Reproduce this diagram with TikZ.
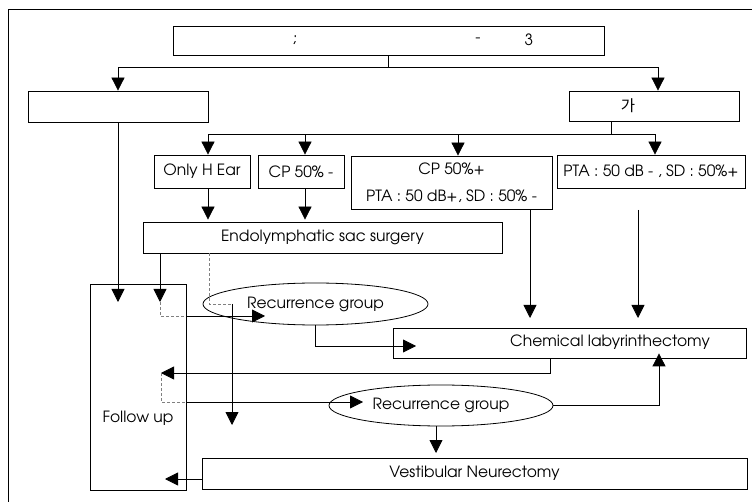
\documentclass[tikz,border=0pt]{standalone}
\usepackage{fontspec}
\setmainfont{texgyreadventor}[Extension=.otf,UprightFont=*-regular,BoldFont=*-bold]
\newfontfamily\krfont{Noto Sans CJK KR}
\usetikzlibrary{arrows.meta,shapes.geometric,positioning}
\tikzset{>={Triangle[length=13pt,width=13pt]}}
\tikzset{box/.style={draw,line width=.8pt,inner sep=0pt},
  grp/.style={draw,ellipse,line width=.8pt,inner sep=0pt,minimum width=225pt,minimum height=42pt},
  dashline/.style={dash pattern=on 3pt off 2pt,line width=.6pt,gray}}

\begin{document}
\begin{tikzpicture}[x=1pt,y=-1pt,line width=.8pt,font=\fontsize{15.5}{18}\selectfont]
        \useasboundingbox (0,0) rectangle (752,502);
        \draw (8,502)--(8,9)--(752,9);
        \node (top) at (388.5,40.5)[box,minimum width=431pt,minimum height=29pt]{};
        \node (semi) at (295,40){;};
        \node (dash) at (478,40){-};
        \node (three) at (529,40){3};
        \node (lbox) at (118,106.5)[box,minimum width=180pt,minimum height=31pt]{};
        \node (rbox) at (654,106)[box,minimum width=170pt,minimum height=30pt]{};
        \node (ga) at (628,106){\krfont 가};
        \draw [->](top.south)--++(0,12)-|(lbox.north);
        \draw [->](top.south)--++(0,12)-|([xshift=4pt]rbox.north);
        \node (onlyh) at (202,171.5)[box,minimum width=96pt,minimum height=33pt]{Only H Ear};
        \node (cpminus) at (301,171.5)[box,minimum width=86pt,minimum height=33pt]{CP 50\% -};
        \node (cpplus) at (451.5,182.5)[box,minimum width=201pt,minimum height=53pt,align=center]{CP 50\%+\\[9pt]PTA : 50 dB+, SD : 50\% -};
        \node (pta) at (651,171.5)[box,minimum width=188pt,minimum height=33pt]{PTA : 50 dB - , SD : 50\%+};
        \coordinate (fork) at (611,134);
        \draw (rbox.south -| fork)--(fork);
        \draw [->](fork)-|([xshift=6pt]onlyh.north);
        \draw [->](fork)-|([xshift=4pt]cpminus.north);
        \draw [->](fork)-|([xshift=6.5pt]cpplus.north);
        \draw [->](fork)-|([xshift=4pt]pta.north);
        \node (endo) at (322.5,237.5)[box,minimum width=359pt,minimum height=31pt]{Endolymphatic sac surgery};
        \draw [->]([xshift=6pt]onlyh.south)--([xshift=6pt,yshift=2pt]onlyh.south |- endo.north);
        \draw [->]([xshift=4pt]cpminus.south)--([xshift=4pt,yshift=2pt]cpminus.south |- endo.north);
        \node (follow) at (138,387)[box,minimum width=96pt,minimum height=206pt]{};
        \node (followtxt) at (138,418){Follow up};
        \coordinate (inA) at (118,302);
        \coordinate (inB) at (160,302);
        \coordinate (bendA) at (186,316);
        \coordinate (inGA) at (265,316);
        \draw [->](lbox.south)--(inA);
        \draw [->](endo.south -| inB)--(inB);
        \draw [dashline](inB)|-(bendA);
        \draw [->](bendA)--(inGA);
        \coordinate (dropA) at (209,304);
        \coordinate (dropB) at (232,304);
        \coordinate (tipC) at (232,425);
        \draw [dashline](endo.south -| dropA)|-(dropB);
        \draw [->](dropB)--(tipC);
        \node (grpA) at (315.5,304)[grp]{Recurrence group};
        \node (chem) at (569.5,343)[box,minimum width=353pt,minimum height=30pt]{};
        \node (chemtxt) at (610,342){Chemical labyrinthectomy};
        \coordinate (inC) at (416,346);
        \draw [->](grpA.south)|-(inC);
        \coordinate (inD) at (530,318);
        \draw [->](cpplus.south -| inD)--(inD);
        \coordinate (ptaout) at (638,210);
        \coordinate (inE) at (638,318);
        \draw [->](ptaout)--(inE);
        \coordinate (outF) at (550,373);
        \coordinate (inF) at (161,373);
        \draw [->](chem.south -| outF)--(outF)--(inF);
        \coordinate (bendB) at (186,402);
        \coordinate (inGB) at (363,402);
        \draw [dashline](inF)|-(bendB);
        \draw [->](bendB)--(inGB);
        \node (grpB) at (441,405.5)[grp,minimum width=224pt,minimum height=41pt]{Recurrence group};
        \draw [->](grpB.east)-|([xshift=89.5pt,yshift=5pt]chem.south);
        \node (vest) at (474.5,473.5)[box,minimum width=545pt,minimum height=31pt]{Vestibular Neurectomy};
        \coordinate (inH) at (436,453);
        \draw [->](grpB.south -| inH)--(inH);
        \coordinate (inI) at (165,479);
        \draw [->](vest.west |- inI)--(inI);
\end{tikzpicture}
\end{document}
